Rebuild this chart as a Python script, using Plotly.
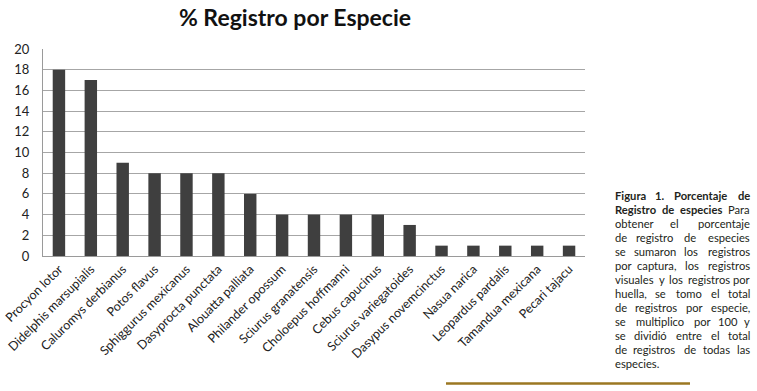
import plotly.graph_objects as go

species = ["Procyon lotor", "Didelphis marsupialis", "Caluromys derbianus", "Potos flavus",
           "Sphiggurus mexicanus", "Dasyprocta punctata", "Alouatta palliata", "Philander opossum",
           "Sciurus granatensis", "Choloepus hoffmanni", "Cebus capucinus", "Sciurus variegatoides",
           "Dasypus novemcinctus", "Nasua narica", "Leopardus pardalis", "Tamandua mexicana",
           "Pecari tajacu"]
percent = [18, 17, 9, 8, 8, 8, 6, 4, 4, 4, 4, 3, 1, 1, 1, 1, 1]
y_ticks = [0, 2, 4, 6, 8, 10, 12, 14, 16, 18, 20]

caption_lines = [
    [("Figura", True), ("1.", True), ("Porcentaje", True), ("de", True)],
    [("Registro", True), ("de", True), ("especies", True), ("Para", False)],
    [("obtener", False), ("el", False), ("porcentaje", False)],
    [("de", False), ("registro", False), ("de", False), ("especies", False)],
    [("se", False), ("sumaron", False), ("los", False), ("registros", False)],
    [("por", False), ("captura,", False), ("los", False), ("registros", False)],
    [("visuales", False), ("y", False), ("los", False), ("registros", False), ("por", False)],
    [("huella,", False), ("se", False), ("tomo", False), ("el", False), ("total", False)],
    [("de", False), ("registros", False), ("por", False), ("especie,", False)],
    [("se", False), ("multiplico", False), ("por", False), ("100", False), ("y", False)],
    [("se", False), ("dividió", False), ("entre", False), ("el", False), ("total", False)],
    [("de", False), ("registros", False), ("de", False), ("todas", False), ("las", False)],
    [("especies.", False)],
]

W_PX, H_PX = 757, 391
L, R, T, B = 43, 585, 49, 256
PW, PH = R - L, B - T


def px(x):
    return (x - L) / PW


def py(y):
    return (B - y) / PH


def word_w(w, bold, size):
    tot = 0.0
    for c in w:
        if c in "ijl.,'1":
            tot += 0.25
        elif c in "frt":
            tot += 0.37
        elif c in "mw":
            tot += 0.86
        elif c.isupper():
            tot += 0.65
        elif c.isdigit():
            tot += 0.56
        else:
            tot += 0.55
    return tot * size * (1.07 if bold else 1.0)


fig = go.Figure()
fig.add_trace(go.Bar(x=species, y=percent, marker=dict(color="#3f3f3f", line=dict(width=0)),
                     width=0.39))

annotations = []
CAP_SIZE = 11.2
CAP_FONT = "Lato"
x0c, x1c = 613, 752
for i, line in enumerate(caption_lines):
    yc = 195 + i * 14.0
    n = len(line)
    if i == len(caption_lines) - 1 or n == 1:
        xs = [x0c]
        anchors = ["left"]
    else:
        widths = [word_w(w, b, CAP_SIZE) for w, b in line]
        gap = (x1c - x0c - sum(widths)) / (n - 1)
        xs, anchors = [], []
        cur = x0c
        for k, ((w, b), ww) in enumerate(zip(line, widths)):
            if k == 0:
                xs.append(x0c); anchors.append("left")
            elif k == n - 1:
                xs.append(x1c); anchors.append("right")
            else:
                xs.append(cur + ww / 2); anchors.append("center")
            cur += ww + gap
    for (w, b), xx, an in zip(line, xs, anchors):
        annotations.append(dict(
            x=px(xx), y=py(yc), xref="paper", yref="paper", xanchor=an, yanchor="middle",
            text=f"<b>{w}</b>" if b else w, showarrow=False,
            font=dict(family=CAP_FONT, size=CAP_SIZE, color="#231f20")))

fig.update_layout(
    width=W_PX, height=H_PX,
    margin=dict(l=L, r=W_PX - R, t=T, b=H_PX - B, autoexpand=False),
    paper_bgcolor="white", plot_bgcolor="white",
    title=dict(text="<b>% Registro por Especie</b>", x=295 / W_PX, xref="container",
               xanchor="center", y=1 - 18 / H_PX, yref="container", yanchor="middle",
               font=dict(family="Lato", size=23, color="#111")),
    showlegend=False,
    xaxis=dict(tickangle=-45, tickfont=dict(family="Lato", size=12.5, color="#222"),
               showline=True, linecolor="#9a9a9a", linewidth=1, ticks="",
               showgrid=False, fixedrange=True, automargin=False),
    yaxis=dict(range=[0, 20], tickvals=y_ticks, tickfont=dict(family="Lato", size=13, color="#222"),
               showline=True, linecolor="#9a9a9a", linewidth=1, showgrid=True,
               gridcolor="#a6a6a6", gridwidth=1, ticks="", zeroline=False, fixedrange=True,
               automargin=False, ticklabelstandoff=10),
    annotations=annotations,
    shapes=[dict(type="line", xref="paper", yref="paper", x0=px(446), x1=px(690),
                 y0=py(383.5), y1=py(383.5), line=dict(color="#9b7722", width=2.5))],
    font=dict(family="Lato"),
)

fig.write_html("out.html", config={"displayModeBar": False},
               post_script="document.body.style.margin='0';document.body.style.overflow='hidden';")
